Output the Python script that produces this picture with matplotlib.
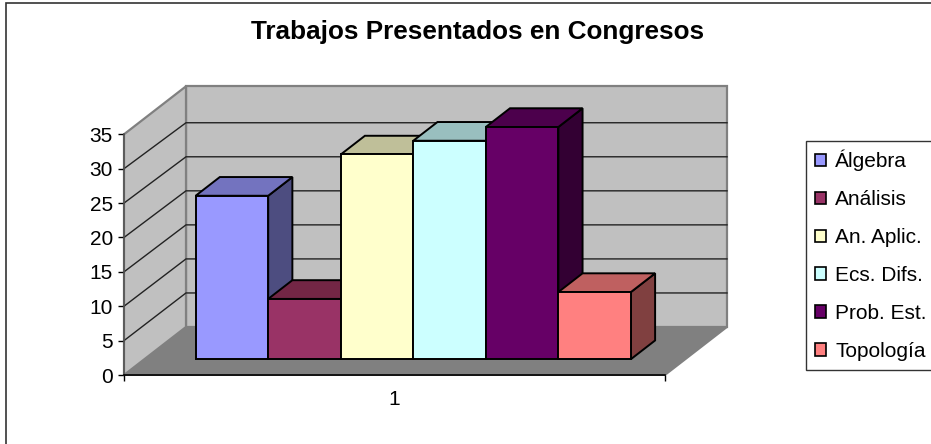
import matplotlib
matplotlib.use("Agg")
import numpy as np
import matplotlib.pyplot as plt
from matplotlib.patches import Polygon, Patch, Rectangle

plt.rcParams.update({
    "font.family": ["Liberation Sans", "DejaVu Sans"],
    "font.size": 14,
})

categories = ["Álgebra", "Análisis", "An. Aplic.", "Ecs. Difs.", "Prob. Est.", "Topología"]
values = [24, 9, 30, 32, 34, 10]
front_colors = ["#9999FF", "#993366", "#FFFFCC", "#CCFFFF", "#660066", "#FF8080"]
top_colors = ["#7373BF", "#732645", "#BFBF99", "#99BFBF", "#4C004C", "#BF6060"]
side_colors = ["#4D4D80", "#4D1A33", "#808066", "#668080", "#330033", "#804040"]
y_ticks = [0, 5, 10, 15, 20, 25, 30, 35]

W, H = 931, 444
# depth of the box, in data units
DX = 62 / 541
DY = 48 / 6.877
# bars sit in this part of the depth
D_FRONT = 0.33
D_BACK = 0.72
BAR_START = 0.0946
BAR_W = 0.1341
# the old 3D renderer draws tops and back gridlines a bit low
TOP_TRIM = 0.24
GRID_BACK = 0.99


def proj(x, y, d):
    return (x + d * DX, y + d * DY)


def face(ax, pts, color, ec="black", lw=1.4, z=2):
    ax.add_patch(Polygon(pts, closed=True, facecolor=color, edgecolor=ec,
                         linewidth=lw, zorder=z, clip_on=False, joinstyle="miter"))


fig = plt.figure(figsize=(W / 100, H / 100), dpi=100)
# outer chart frame, runs off the right and bottom of the picture
fig.patches.append(Rectangle((5.5 / W, -0.05), 1, 1 - 3.5 / H + 0.05, transform=fig.transFigure,
                             facecolor="white", edgecolor="#333333", linewidth=1.2, zorder=-1))

ax = fig.add_axes([124 / W, 1 - 375 / H, 541 / W, 240.7 / H])
ax.patch.set_visible(False)
ax.set_xlim(0, 1)
ax.set_ylim(0, 35)

# floor and walls
face(ax, [proj(0, 0, 0), proj(1, 0, 0), proj(1, 0, 1), proj(0, 0, 1)], "#808080", ec="#808080", z=1)
face(ax, [proj(0, 0, 1), proj(1, 0, 1), proj(1, 35, 1), proj(0, 35, 1)], "#C0C0C0", ec="#808080", lw=1.6, z=1)
face(ax, [proj(0, 0, 0), proj(0, 0, 1), proj(0, 35, 1), proj(0, 35, 0)], "#C0C0C0", ec="#808080", lw=1.6, z=1)

# gridlines on both walls
for v in y_ticks[1:-1]:
    ax.plot(*zip(proj(0, v, 0), proj(0, v * GRID_BACK, 1), proj(1, v * GRID_BACK, 1)), color="#222222", lw=1.0,
            zorder=1.5, clip_on=False)

# bars, left to right so the later ones cover the earlier sides
for i, v in enumerate(values):
    x0 = BAR_START + i * BAR_W
    x1 = x0 + BAR_W
    t = v - TOP_TRIM
    face(ax, [proj(x1, 0, D_FRONT), proj(x1, 0, D_BACK), proj(x1, t, D_BACK), proj(x1, t, D_FRONT)], side_colors[i])
    face(ax, [proj(x0, t, D_FRONT), proj(x1, t, D_FRONT), proj(x1, t, D_BACK), proj(x0, t, D_BACK)], top_colors[i])
    face(ax, [proj(x0, 0, D_FRONT), proj(x1, 0, D_FRONT), proj(x1, t, D_FRONT), proj(x0, t, D_FRONT)], front_colors[i])

for s in ["top", "right"]:
    ax.spines[s].set_visible(False)
ax.spines["left"].set_color("#555555")
ax.spines["left"].set_linewidth(1.2)
ax.spines["bottom"].set_color("black")
ax.spines["bottom"].set_linewidth(1.2)
ax.spines["left"].set_zorder(3)
ax.spines["bottom"].set_zorder(3)
ax.set_yticks(y_ticks)
ax.set_xticks([0, 1], labels=["", ""])
ax.tick_params(axis="both", length=4.2, width=1.0, labelsize=15, pad=3.8)
ax.text(0.5, -0.10, "1", transform=ax.transAxes, ha="center", va="center", fontsize=15)

fig.text(477.5 / W, 1 - 32.5 / H, "Trabajos Presentados en Congresos", ha="center", va="center",
         fontsize=18.8, fontweight="bold")

handles = [Patch(facecolor=c, edgecolor="black", linewidth=1.2) for c in front_colors]
fig.legend(handles, categories, loc="upper left", bbox_to_anchor=(806 / W, 1 - 141 / H),
           fontsize=15, frameon=True, fancybox=False, edgecolor="#333333", framealpha=1,
           handlelength=0.55, handleheight=0.55, handletextpad=0.43, labelspacing=0.905,
           borderpad=0.43, borderaxespad=0)

fig.savefig("out.png", dpi=100)
